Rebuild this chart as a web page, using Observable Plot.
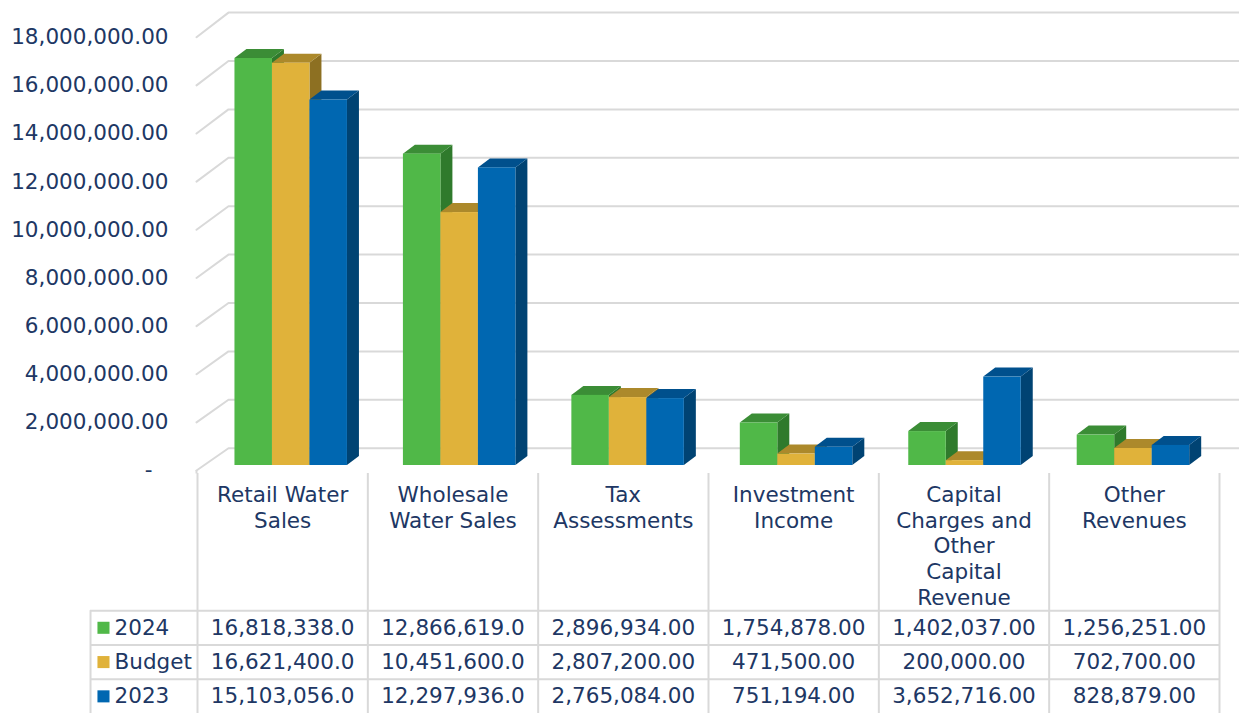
<!DOCTYPE html>
<html>
<head>
<meta charset="utf-8">
<script src="https://cdn.jsdelivr.net/npm/d3@7"></script>
<script src="https://cdn.jsdelivr.net/npm/@observablehq/plot@0.6"></script>
<style>
  html, body { margin: 0; padding: 0; background: #ffffff; }
  #chart svg { display: block; }
  #chart svg.tbl { margin-top: -10px; position: relative; }
</style>
</head>
<body>
<div id="chart"></div>
<script>
// ---- data ----
const categories = ["Retail Water Sales", "Wholesale Water Sales", "Tax Assessments", "Investment Income", "Capital Charges and Other Capital Revenue", "Other Revenues"];
const categoryLabels = ["Retail Water\nSales", "Wholesale\nWater Sales", "Tax\nAssessments", "Investment\nIncome", "Capital\nCharges and\nOther\nCapital\nRevenue", "Other\nRevenues"];
const series = ["2024", "Budget", "2023"];
const values2024 = [16818338, 12866619, 2896934, 1754878, 1402037, 1256251];
const valuesBudget = [16621400, 10451600, 2807200, 471500, 200000, 702700];
const values2023 = [15103056, 12297936, 2765084, 751194, 3652716, 828879];
const yTicks = [0, 2000000, 4000000, 6000000, 8000000, 10000000, 12000000, 14000000, 16000000, 18000000];

// ---- styles ----
const frontColors = ["#50B848", "#E0B23A", "#0067B1"];
const topColors = ["#3B8D36", "#AC892B", "#00508D"];
const sideColors = ["#2F7A2C", "#8D7022", "#004373"];
const textColor = "#203764";
const gridColor = "#D9D9D9";
const font = "DejaVu Sans, Verdana, sans-serif";
const fontSize = "21.5px";

const valuesBySeries = [values2024, valuesBudget, values2023];

// 3-D projection parameters (column units / value units)
const barW = 0.2226, groupStart = 0.166;
const depthX = 0.0712, depthY = 372000;
const wallFrontX = -0.0623, wallBackX = 0.1276, wallRightX = 6.13;
const frontY = v => v * 0.9946 - 206600;
const backY = v => v + 715000;

const bars = [];
categories.forEach((c, i) => {
  series.forEach((s, j) => {
    const x0 = i + groupStart + j * barW;
    bars.push({id: `${i}-${j}`, x0, x1: x0 + barW, v: valuesBySeries[j][i], j});
  });
});
const sides = bars.flatMap(b => [
  {id: b.id, x: b.x1, y1: 0, y2: b.v, fill: sideColors[b.j]},
  {id: b.id, x: b.x1 + depthX, y1: depthY, y2: b.v + depthY, fill: sideColors[b.j]}
]);
const tops = bars.flatMap(b => [
  {id: b.id, y: b.v, x1: b.x0, x2: b.x1, fill: topColors[b.j]},
  {id: b.id, y: b.v + depthY, x1: b.x0 + depthX, x2: b.x1 + depthX, fill: topColors[b.j]}
]);
const gridPts = yTicks.flatMap(t => [
  {tick: t, x: wallFrontX, y: frontY(t)},
  {tick: t, x: wallBackX, y: backY(t)},
  {tick: t, x: wallRightX, y: backY(t)}
]);
const fmtAxis = d3.format(",.2f");

const chart = Plot.plot({
  width: 1239,
  height: 483,
  x: {domain: [0, 6], range: [206.5, 1217.2], axis: null},
  y: {domain: [0, 18000000], range: [465, 29.4], axis: null},
  color: {type: "identity"},
  style: {fontFamily: font, fontSize, background: "#fff"},
  marks: [
    Plot.line(gridPts, {x: "x", y: "y", z: "tick", stroke: gridColor, strokeWidth: 2}),
    Plot.ruleX([wallFrontX], {y1: frontY(0), y2: -350000, stroke: gridColor, strokeWidth: 2}),
    Plot.text(yTicks.filter(t => t > 0), {x: -0.2286, y: t => frontY(t), text: t => fmtAxis(t), textAnchor: "end", fill: textColor}),
    Plot.text(yTicks.filter(t => t === 0), {x: -0.2286, y: t => frontY(t), text: () => "-", textAnchor: "end", dx: -16, fill: textColor}),
    Plot.areaY(sides, {x: "x", y1: "y1", y2: "y2", z: "id", fill: "fill"}),
    Plot.areaX(tops, {y: "y", x1: "x1", x2: "x2", z: "id", fill: "fill"}),
    Plot.rect(bars, {x1: "x0", x2: "x1", y1: 0, y2: "v", fill: d => frontColors[d.j]})
  ]
});

// ---- data table below the chart ----
const fmt1 = d3.format(",.1f"), fmt2 = d3.format(",.2f");
const cells = [];
series.forEach((s, j) => {
  categories.forEach((c, i) => {
    const v = valuesBySeries[j][i];
    cells.push({x: i + 0.5, y: 4.5 + j, text: v >= 10000000 ? fmt1(v) : fmt2(v)});
  });
});
const legendRows = series.map((s, j) => ({s, y: 4.5 + j, color: frontColors[j]}));
const legendLeft = -0.628;

const table = Plot.plot({
  width: 1239,
  height: 240,
  x: {domain: [0, 6], range: [197, 1219], axis: null},
  y: {domain: [0, 7], range: [0, 240], axis: null},
  color: {type: "identity"},
  style: {fontFamily: font, fontSize, background: "transparent"},
  marks: [
    Plot.ruleX(d3.range(0, 7), {y1: 0, y2: 7, stroke: gridColor, strokeWidth: 2}),
    Plot.ruleX([legendLeft], {y1: 4, y2: 7, stroke: gridColor, strokeWidth: 2}),
    Plot.ruleY([4, 5, 6], {x1: legendLeft, x2: 6, stroke: gridColor, strokeWidth: 2}),
    Plot.text(categoryLabels, {x: (d, i) => i + 0.5, y: 0, text: d => d, lineAnchor: "top", lineHeight: 1.19, dy: 10.5, fill: textColor}),
    Plot.text(cells, {x: "x", y: "y", text: "text", fill: textColor}),
    Plot.dot(legendRows, {x: -0.552, y: "y", symbol: "square", r: 6.8, fill: "color", stroke: null}),
    Plot.text(legendRows, {x: -0.487, y: "y", text: "s", textAnchor: "start", fill: textColor})
  ]
});
table.classList.add("tbl");

const root = document.getElementById("chart");
root.appendChild(chart);
root.appendChild(table);
</script>
</body>
</html>
